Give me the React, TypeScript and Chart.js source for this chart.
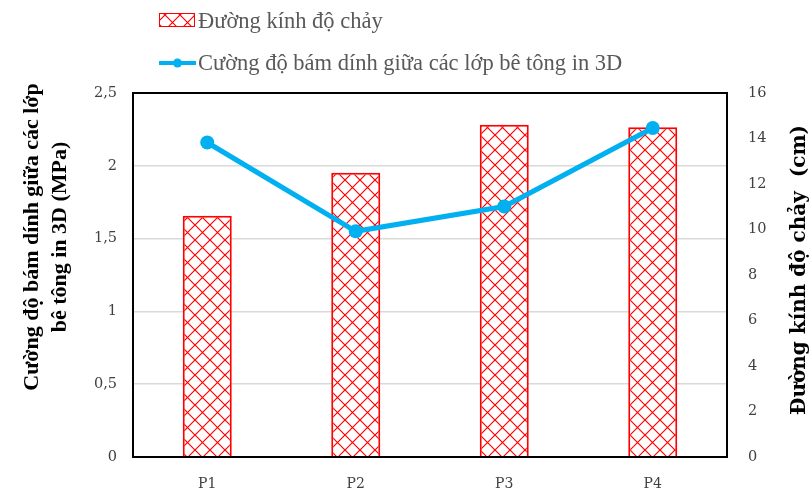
import React, { useEffect, useRef } from "react";
import { Chart, registerables } from "chart.js";

Chart.register(...registerables);

// Mix designs
const categories = ["P1", "P2", "P3", "P4"];
// Slump-flow diameter (cm) – bars, right axis
const flowDiameter = [10.6, 12.5, 14.6, 14.5];
// Interlayer bond strength of 3D-printed concrete (MPa) – line, left axis
const bondStrength = [2.16, 1.55, 1.72, 2.26];

const leftMax = 2.5;
const leftStep = 0.5;
const rightMax = 16;
const rightStep = 2;

const legendBar = "Đường kính độ chảy";
const legendLine = "Cường độ bám dính giữa các lớp bê tông in 3D";
const leftTitle = ["Cường độ bám dính giữa các lớp", "bê tông in 3D (MPa)"];
const rightTitle = "Đường kính độ chảy  (cm)";

const SERIF = "'Liberation Serif', 'Times New Roman', serif";
const WIDE_SERIF = "'DejaVu Serif', serif";
const RED = "#ff0000";
const BLUE = "#00b0f0";

function makeHatch(): CanvasPattern | string {
  const size = 15;
  const c = document.createElement("canvas");
  c.width = size;
  c.height = size;
  const g = c.getContext("2d");
  if (!g) return "#fff";
  g.fillStyle = "#ffffff";
  g.fillRect(0, 0, size, size);
  g.strokeStyle = RED;
  g.lineWidth = 1.2;
  g.beginPath();
  g.moveTo(-2, -2);
  g.lineTo(size + 2, size + 2);
  g.moveTo(size + 2, -2);
  g.lineTo(-2, size + 2);
  g.stroke();
  const p = g.createPattern(c, "repeat");
  return p || "#fff";
}

export default function App() {
  const ref = useRef<HTMLCanvasElement | null>(null);

  useEffect(() => {
    const canvas = ref.current;
    if (!canvas) return;
    const hatch = makeHatch();

    const decor = {
      id: "decor",
      afterDraw(chart: any) {
        const { ctx, chartArea } = chart;
        const { left, right, top, bottom } = chartArea;
        ctx.save();
        // plot frame
        ctx.strokeStyle = "#000";
        ctx.lineWidth = 2;
        ctx.strokeRect(left, top, right - left, bottom - top);

        // legend
        ctx.fillStyle = hatch as any;
        ctx.fillRect(159, 13, 36, 14);
        ctx.strokeStyle = RED;
        ctx.lineWidth = 1;
        ctx.strokeRect(159.5, 13.5, 35, 13);
        ctx.strokeStyle = BLUE;
        ctx.lineWidth = 4;
        ctx.beginPath();
        ctx.moveTo(159, 63);
        ctx.lineTo(196, 63);
        ctx.stroke();
        ctx.fillStyle = BLUE;
        ctx.beginPath();
        ctx.arc(177.5, 63, 4.5, 0, Math.PI * 2);
        ctx.fill();
        ctx.fillStyle = "#595959";
        ctx.font = `22.5px ${SERIF}`;
        ctx.textAlign = "left";
        ctx.textBaseline = "alphabetic";
        ctx.fillText(legendBar, 198, 28);
        ctx.fillText(legendLine, 198, 70);

        // axis titles
        ctx.fillStyle = "#000";
        ctx.font = `bold 22px ${SERIF}`;
        ctx.textAlign = "center";
        ctx.textBaseline = "middle";
        const leftX = [32, 60];
        leftTitle.forEach((t, i) => {
          ctx.save();
          ctx.translate(leftX[i], 237);
          ctx.rotate(-Math.PI / 2);
          ctx.fillText(t, 0, 0);
          ctx.restore();
        });
        ctx.font = `bold 20px ${WIDE_SERIF}`;
        ctx.save();
        ctx.translate(800, 270);
        ctx.rotate(-Math.PI / 2);
        ctx.fillText(rightTitle, 0, 0);
        ctx.restore();
        ctx.restore();
      },
    };

    const tickFont = { family: WIDE_SERIF, size: 14.5 };
    const chart = new Chart(canvas, {
      data: {
        labels: categories,
        datasets: [
          {
            type: "line",
            label: legendLine,
            data: bondStrength,
            yAxisID: "y",
            borderColor: BLUE,
            backgroundColor: BLUE,
            borderWidth: 5,
            pointRadius: 7,
            pointBackgroundColor: BLUE,
            pointBorderWidth: 0,
            order: 0,
          },
          {
            type: "bar",
            label: legendBar,
            data: flowDiameter,
            yAxisID: "y1",
            backgroundColor: hatch as any,
            borderColor: RED,
            borderWidth: 2,
            categoryPercentage: 1,
            barPercentage: 0.33,
            order: 1,
          },
        ],
      } as any,
      options: {
        responsive: false,
        devicePixelRatio: 1,
        animation: false,
        layout: { padding: { top: 93, left: 0, right: 0, bottom: 0 } },
        plugins: {
          legend: { display: false },
          tooltip: { enabled: false },
          title: { display: false },
        },
        scales: {
          x: {
            grid: { display: false, drawTicks: false },
            border: { display: true, color: "#000", width: 2 },
            ticks: { padding: 19, color: "#404040", font: { family: WIDE_SERIF, size: 14 } },
            afterFit: (s: any) => {
              s.height = 37;
            },
          },
          y: {
            position: "left",
            min: 0,
            max: leftMax,
            grid: { color: "#d9d9d9", lineWidth: 1.5, drawTicks: false },
            border: { display: true, color: "#000", width: 2 },
            ticks: {
              stepSize: leftStep,
              padding: 16,
              color: "#404040",
              font: tickFont,
              callback: (v: any) => String(v).replace(".", ","),
            },
            afterFit: (s: any) => {
              s.width = 133;
            },
          },
          y1: {
            position: "right",
            min: 0,
            max: rightMax,
            grid: { drawOnChartArea: false, drawTicks: false },
            border: { display: true, color: "#000", width: 2 },
            ticks: {
              stepSize: rightStep,
              padding: 21,
              color: "#404040",
              font: tickFont,
            },
            afterFit: (s: any) => {
              s.width = 84;
            },
          },
        },
      } as any,
      plugins: [decor],
    });
    return () => chart.destroy();
  }, []);

  return (
    <div
      style={{
        position: "fixed",
        left: 0,
        top: 0,
        width: 811,
        height: 494,
        background: "#fff",
      }}
    >
      <canvas ref={ref} width={811} height={494} />
    </div>
  );
}
